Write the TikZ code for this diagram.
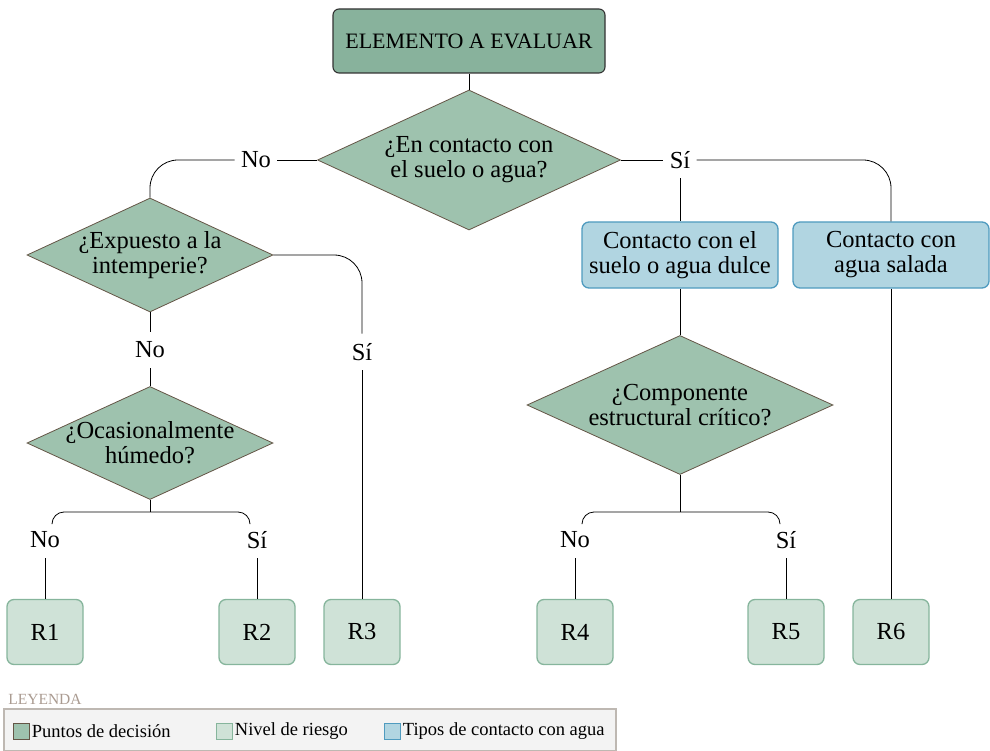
\documentclass[tikz,border=0pt]{standalone}
\usepackage{fontspec}
\setmainfont{Liberation Serif}
\usetikzlibrary{shapes.geometric}

\definecolor{topfill}{RGB}{136,178,156}
\definecolor{decfill}{RGB}{158,194,174}
\definecolor{decline}{RGB}{100,85,70}
\definecolor{riskfill}{RGB}{207,226,215}
\definecolor{riskline}{RGB}{134,181,156}
\definecolor{wfill}{RGB}{177,213,225}
\definecolor{wline}{RGB}{79,155,191}
\definecolor{legfill}{RGB}{243,243,243}
\definecolor{legline}{RGB}{190,184,178}
\definecolor{legtext}{RGB}{170,155,145}

\begin{document}
\begin{tikzpicture}[x=1pt, y=-1pt, font=\fontsize{24.5}{25}\selectfont,
  start/.style={draw=black!80, line width=1.1pt, fill=topfill, rounded corners=6,
    minimum width=272, minimum height=64, font=\fontsize{22}{25}\selectfont},
  decision/.style={diamond, draw=decline, fill=decfill, aspect=2.16,
    inner xsep=-22pt, inner ysep=0pt, align=center},
  water/.style={draw=wline, line width=1.3pt, fill=wfill, rounded corners=7,
    minimum width=196, minimum height=66, align=center},
  risk/.style={draw=riskline, line width=1.3pt, fill=riskfill, rounded corners=7,
    minimum width=76, minimum height=65},
  answer/.style={inner xsep=6pt, inner ysep=0pt, minimum height=36},
  key/.style={line width=1pt, minimum size=16, inner sep=0pt},
  every path/.style={line width=0.8pt}]
\useasboundingbox (0,0) rectangle (990,751);
\def \ry {632}
\def \by {512}

% decisions
\node[start] (top) at (469,41) {ELEMENTO A EVALUAR};
\node[decision, minimum width=303, minimum height=140] (q1) at (469,160) {¿En contacto con\\el suelo o agua?};
\node[decision, minimum width=246, minimum height=114] (q2) at (150,255) {¿Expuesto a la\\intemperie?};
\node[decision, minimum width=246, minimum height=113] (q3) at (150,443) {¿Ocasionalmente\\húmedo?};
\node[decision, minimum width=306, minimum height=139] (q4) at (680,405) {¿Componente\\estructural crítico?};

% contact types
\node[water] (wd) at (680,255) {Contacto con el\\suelo o agua dulce};
\node[water] (ws) at (891,255) {Contacto con\\agua salada};

% risk levels
\foreach \n/\x in {1/45,2/257,3/362,4/575,5/786,6/891}
{
  \node[risk] (r\n) at (\x,\ry) {R\n};
}

% answers
\node[answer] (a1n) at (256,160) {No};
\node[answer] (a1s) at (680,160) {Sí};
\node[answer] (a2n) at (150,350) {No};
\node[answer] (a2s) at (362,352) {Sí};
\node[answer] (a3n) at (45,540) {No};
\node[answer] (a3s) at (257,540) {Sí};
\node[answer] (a4n) at (575,540) {No};
\node[answer] (a4s) at (786,540) {Sí};

\coordinate (k3) at (150,\by);
\coordinate (k3l) at (52,523);
\coordinate (k3r) at (250,523);
\coordinate (k4) at (680,\by);
\coordinate (k4l) at (582,523);
\coordinate (k4r) at (780,523);

\draw (top) -- (q1);
\draw (q1.west) -- (a1n);
\draw[rounded corners=28] (a1n) -| (q2.north);
\draw (q1.east) -- (a1s);
\draw[rounded corners=28] (a1s) -| (ws.north);
\draw (a1s) -- (wd);

\draw[rounded corners=28] (q2.east) -| (a2s);
\draw (a2s) -- (r3);
\draw (q2.south) -- (a2n);
\draw (a2n) -- (q3.north);

\draw (q3.south) -- (k3);
\draw[rounded corners=12] (k3l) |- (k3) -| (k3r);
\draw (a3n) -- (r1);
\draw (a3s) -- (r2);

\draw (wd) -- (q4.north);
\draw (q4.south) -- (k4);
\draw[rounded corners=12] (k4l) |- (k4) -| (k4r);
\draw (a4n) -- (r4);
\draw (a4s) -- (r5);
\draw (ws) -- (r6);

% legend
\node[anchor=west, inner sep=0pt, text=legtext, font=\fontsize{15.5}{17}\selectfont] (legtitle) at (8,699) {LEYENDA};
\draw[draw=legline, fill=legfill, line width=1.2pt] (4,709) rectangle (616,750.4);
\foreach \i/\x/\f/\d/\t in {1/21/decfill/decline/Puntos de decisión,
                            2/224/riskfill/riskline/Nivel de riesgo,
                            3/392/wfill/wline/Tipos de contacto con agua}
{
  \node[key, fill=\f, draw=\d] (key\i) at (\x,731) {};
  \node[anchor=west, inner sep=2pt, font=\fontsize{18.5}{20}\selectfont] (kt\i) at (key\i.east) {\t};
}
\end{tikzpicture}
\end{document}
